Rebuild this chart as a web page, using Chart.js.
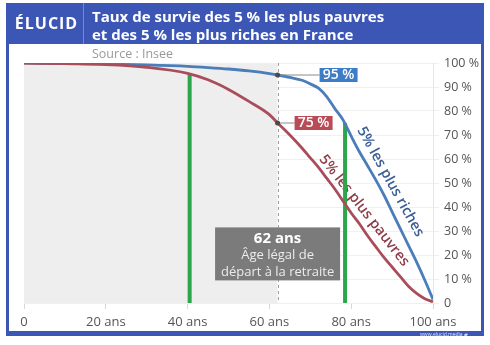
<!DOCTYPE html>
<html lang="fr">
<head>
<meta charset="utf-8">
<title>Taux de survie</title>
<script src="https://cdn.jsdelivr.net/npm/chart.js@4/dist/chart.umd.min.js"></script>
<style>
  html, body { margin: 0; padding: 0; background: #fff; }
  body { width: 490px; height: 345px; position: relative; overflow: hidden; font-family: "Open Sans", sans-serif; }
  #chart { position: absolute; left: 0; top: 0; }
  .frame { position: absolute; left: 6px; top: 3px; width: 472px; height: 328px;
           border: 3px solid #3c56b6; border-top: none; border-bottom-width: 5px; }
  .header { position: absolute; left: 6px; top: 3px; width: 478px; height: 41px; background: #3c56b6; }
  .logo { position: absolute; left: 0; top: 0; width: 77px; height: 41px; border-right: 1.5px solid #7489d6;
          color: #fff; font-weight: 700; font-size: 16px; line-height: 41px; text-align: center;
          letter-spacing: 1px; text-indent: 4px; }
  .title { position: absolute; left: 86px; top: 4px; color: #fff; font-weight: 700; font-size: 15px; line-height: 18px; }
  .source { position: absolute; left: 92px; top: 45px; color: #9a9a9a; font-size: 12.5px; }
  .site { position: absolute; left: 420px; top: 332px; color: #dfe5ff; font-size: 5px; line-height: 5px; }
</style>
</head>
<body>
<canvas id="chart" width="490" height="345"></canvas>
<div class="frame"></div>
<div class="header">
  <div class="logo">ÉLUCID</div>
  <div class="title">Taux de survie des 5 % les plus pauvres<br>et des 5 % les plus riches en France</div>
</div>
<div class="source">Source : Insee</div>
<div class="site">www.elucid.media ▰</div>

<script>
// ages (years) and survival rates (%)
const ages = [0, 10, 20, 30, 40, 45, 50, 55, 60, 62, 65, 68, 70, 72, 74, 76, 78, 80, 82, 84, 86, 88, 90, 92, 94, 96, 98, 100];
const richest = [100, 99.8, 99.6, 99.2, 98.6, 98.1, 97.5, 96.7, 95.6, 95, 94, 92.8, 91.3, 89.5, 86, 81, 76.3, 69.5, 63, 57.2, 51.3, 45, 38, 31, 24, 17, 9.5, 1.5];
const poorest = [100, 99.7, 99.3, 98.2, 95.7, 93, 89, 84, 78.5, 75, 70, 64.5, 60.5, 56.5, 52, 47.5, 42.5, 37.5, 33, 28, 23.5, 19, 15, 11, 7, 4, 1.8, 0.5];

// green markers: age and survival reached
const markerAges = [40.5, 78.5];
const markerTops = [95.7, 75];

// values pointed out at the legal retirement age
const retirementAge = 62;
const retirementValues = [95, 75];
const retirementLabels = ["95 %", "75 %"];
const retirementText = ["62 ans", "Âge légal de", "départ à la retraite"];

const xTicks = [0, 20, 40, 60, 80, 100];
const xTickLabels = ["0", "20 ans", "40 ans", "60 ans", "80 ans", "100 ans"];
const yTicks = [0, 10, 20, 30, 40, 50, 60, 70, 80, 90, 100];
const yTickLabels = ["0", "10 %", "20 %", "30 %", "40 %", "50 %", "60 %", "70 %", "80 %", "90 %", "100 %"];

const BLUE = "#4a7db9";
const RED = "#a94d5a";
const GREEN = "#2ba64b";

const pairs = (ys) => ages.map((a, i) => ({ x: a, y: ys[i] }));

const greenSets = markerAges.map((a, i) => ({
  data: [{ x: a, y: 0 }, { x: a, y: markerTops[i] }],
  borderColor: GREEN,
  borderWidth: 4,
  pointRadius: 0,
  clip: false,
}));

const annotations = {
  id: "annotations",
  beforeDatasetsDraw(chart) {
    const { ctx, chartArea: a, scales: { x, y } } = chart;
    const xr = x.getPixelForValue(retirementAge);
    ctx.save();
    // years before retirement
    ctx.fillStyle = "#eeeeee";
    ctx.fillRect(a.left, a.top, xr - a.left, a.bottom - a.top);
    ctx.strokeStyle = "#a0a0a0";
    ctx.lineWidth = 1;
    ctx.setLineDash([3, 3]);
    ctx.beginPath();
    ctx.moveTo(Math.round(xr) + 0.5, a.top);
    ctx.lineTo(Math.round(xr) + 0.5, a.bottom);
    ctx.stroke();
    ctx.setLineDash([]);

    // curve names, slanted along the curves
    ctx.font = "600 14.5px 'Open Sans'";
    ctx.textAlign = "center";
    ctx.textBaseline = "middle";
    const names = [
      { t: "5% les plus riches", x: 89.6, y: 50.5, ang: 61, c: "#3b5e94" },
      { t: "5% les plus pauvres", x: 83.2, y: 38.5, ang: 52, c: "#8e3c49" },
    ];
    names.forEach((n) => {
      ctx.save();
      ctx.translate(x.getPixelForValue(n.x), y.getPixelForValue(n.y));
      ctx.rotate((n.ang * Math.PI) / 180);
      ctx.fillStyle = n.c;
      ctx.fillText(n.t, 0, 0);
      ctx.restore();
    });
    ctx.restore();
  },
  afterDatasetsDraw(chart) {
    const { ctx, scales: { x, y } } = chart;
    const xr = x.getPixelForValue(retirementAge);
    ctx.save();

    // value boxes at 62 years
    const boxes = [
      { gap: 42, fill: "#3d7cc6" },
      { gap: 17, fill: "#b84b56" },
    ];
    ctx.font = "600 14px 'Open Sans'";
    ctx.textBaseline = "middle";
    ctx.textAlign = "center";
    retirementValues.forEach((v, i) => {
      const py = y.getPixelForValue(v);
      const b = boxes[i];
      const w = 38, h = 14;
      ctx.strokeStyle = "#8a8a8a";
      ctx.lineWidth = 1;
      ctx.beginPath();
      ctx.moveTo(xr, py);
      ctx.lineTo(xr + b.gap, py);
      ctx.stroke();
      ctx.fillStyle = b.fill;
      ctx.fillRect(xr + b.gap, py - h / 2, w, h);
      ctx.fillStyle = "#fff";
      ctx.fillText(retirementLabels[i], xr + b.gap + w / 2, py + 0.5);
      ctx.fillStyle = "#4a4a4a";
      ctx.beginPath();
      ctx.arc(xr, py, 2.5, 0, Math.PI * 2);
      ctx.fill();
    });

    // retirement age note
    const bw = 125, bh = 53, by = y.getPixelForValue(31.5);
    ctx.fillStyle = "#7b7b7b";
    ctx.fillRect(xr - bw / 2, by, bw, bh);
    ctx.fillStyle = "#ffffff";
    ctx.font = "700 15px 'Open Sans'";
    ctx.fillText(retirementText[0], xr, by + 11);
    ctx.fillStyle = "#ececec";
    ctx.font = "13px 'Open Sans'";
    ctx.fillText(retirementText[1], xr, by + 28);
    ctx.fillText(retirementText[2], xr, by + 45);
    ctx.restore();
  },
};

new Chart(document.getElementById("chart"), {
  type: "line",
  data: {
    datasets: [
      { data: pairs(poorest), borderColor: RED, borderWidth: 2.8, pointRadius: 0, cubicInterpolationMode: "monotone" },
      { data: pairs(richest), borderColor: BLUE, borderWidth: 2.8, pointRadius: 0, cubicInterpolationMode: "monotone" },
      ...greenSets,
    ],
  },
  options: {
    responsive: false,
    animation: false,
    layout: { padding: { left: 24, top: 63, right: 0, bottom: 0 } },
    plugins: { legend: { display: false }, tooltip: { enabled: false } },
    scales: {
      x: {
        type: "linear",
        min: 0,
        max: 100,
        afterBuildTicks: (s) => { s.ticks = xTicks.map((v) => ({ value: v })); },
        afterFit: (s) => { s.height = 42; },
        ticks: {
          callback: (v) => xTickLabels[xTicks.indexOf(v)],
          color: "#555",
          font: { family: "Open Sans", size: 13 },
          padding: 5,
          maxRotation: 0,
        },
        grid: { drawOnChartArea: false, color: "#d8d8d8", tickLength: 6 },
        border: { display: false },
      },
      y: {
        position: "right",
        min: 0,
        max: 100,
        afterBuildTicks: (s) => { s.ticks = yTicks.map((v) => ({ value: v })); },
        afterFit: (s) => { s.width = 57; },
        ticks: {
          callback: (v) => yTickLabels[yTicks.indexOf(v)],
          color: "#555",
          font: { family: "Open Sans", size: 12.5 },
          padding: 5,
        },
        grid: { color: "#f0f0f0", tickLength: 6 },
        border: { color: "#e6e6e6" },
      },
    },
  },
  plugins: [annotations],
});
</script>
</body>
</html>
